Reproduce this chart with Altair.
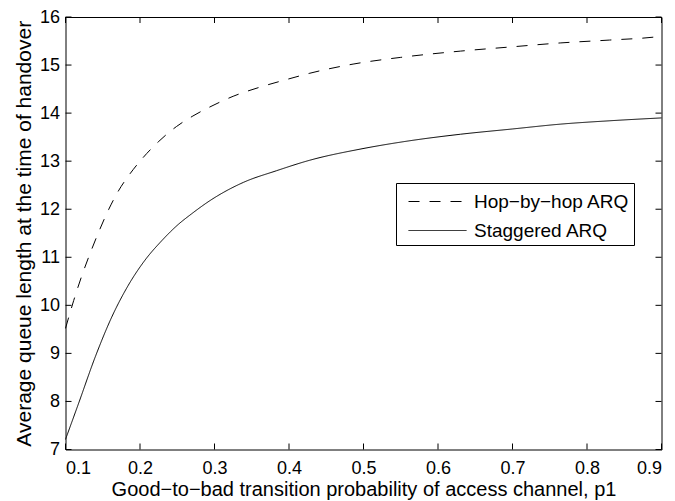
import altair as alt
import pandas as pd

# Hop-by-hop ARQ (dashed)
hop_x = [0.1, 0.111, 0.122, 0.133, 0.1444, 0.1578, 0.171, 0.1867, 0.2022, 0.2244, 0.2489,
         0.271, 0.298, 0.325, 0.361, 0.397, 0.428, 0.486, 0.55, 0.63, 0.7, 0.764, 0.83, 0.889, 0.9]
hop_y = [9.52, 10.1, 10.62, 11.08, 11.52, 11.99, 12.38, 12.74, 13.04, 13.4, 13.72,
         13.94, 14.16, 14.35, 14.54, 14.7, 14.83, 15.02, 15.16, 15.29, 15.38, 15.46, 15.52, 15.58, 15.6]

# Staggered ARQ (solid)
stag_x = [0.1, 0.1178, 0.14, 0.1622, 0.1844, 0.2067, 0.2289, 0.2511, 0.2689,
          0.294, 0.339, 0.383, 0.428, 0.4953, 0.56, 0.63, 0.7, 0.764, 0.83, 0.9]
stag_y = [7.21, 7.97, 8.93, 9.76, 10.42, 10.94, 11.34, 11.68, 11.9,
          12.18, 12.56, 12.8, 13.02, 13.25, 13.42, 13.56, 13.67, 13.77, 13.84, 13.9]

series_names = ["Hop\u2212by\u2212hop ARQ", "Staggered ARQ"]
x_ticks = [0.1, 0.2, 0.3, 0.4, 0.5, 0.6, 0.7, 0.8, 0.9]
y_ticks = [7, 8, 9, 10, 11, 12, 13, 14, 15, 16]

W, H = 596, 432.5
FONT = "Liberation Sans"

df = pd.concat([
    pd.DataFrame({"x": hop_x, "y": hop_y, "series": series_names[0], "o": range(len(hop_x))}),
    pd.DataFrame({"x": stag_x, "y": stag_y, "series": series_names[1], "o": range(len(stag_x))}),
])

xs = alt.Scale(domain=[0.1, 0.9], nice=False, zero=False)
ys = alt.Scale(domain=[7, 16], nice=False, zero=False)

x_axis = alt.Axis(
    values=x_ticks, format=".1f", title="Good\u2212to\u2212bad transition probability of access channel, p1",
    ticks=False, domain=False, grid=False, labelPadding=10, titlePadding=2,
    labelFontSize=18, titleFontSize=20)
y_axis = alt.Axis(
    values=y_ticks, format="d", title="Average queue length at the time of handover",
    ticks=False, domain=False, grid=False, labelPadding=6, titlePadding=5,
    labelFontSize=18, titleFontSize=21)

lines = alt.Chart(df).mark_line(color="black", strokeWidth=1, interpolate="monotone").encode(
    x=alt.X("x:Q", scale=xs, axis=x_axis),
    y=alt.Y("y:Q", scale=ys, axis=y_axis),
    order="o:Q",
    strokeDash=alt.StrokeDash("series:N",
        scale=alt.Scale(domain=series_names, range=[[11, 10], [1, 0]]),
        legend=alt.Legend(title=None, orient="none", legendX=330.5, legendY=166,
                          strokeColor="black", fillColor="white", padding=4,
                          symbolType="M-2.07,0H2.07", symbolSize=784,
                          symbolStrokeColor="black", symbolStrokeWidth=1,
                          symbolOffset=23, labelOffset=22,
                          labelFont=FONT, labelFontSize=19, rowPadding=4)),
)

xt = pd.DataFrame({"x": x_ticks})
yt = pd.DataFrame({"y": y_ticks})

bottom_ticks = alt.Chart(xt).mark_rule(color="black").encode(
    x=alt.X("x:Q", scale=xs, axis=x_axis), y=alt.value(H), y2=alt.value(H - 6))
top_ticks = alt.Chart(xt).mark_rule(color="black").encode(
    x=alt.X("x:Q", scale=xs, axis=x_axis), y=alt.value(0), y2=alt.value(6))
left_ticks = alt.Chart(yt).mark_rule(color="black").encode(
    y=alt.Y("y:Q", scale=ys, axis=y_axis), x=alt.value(0), x2=alt.value(6))
right_ticks = alt.Chart(yt).mark_rule(color="black").encode(
    y=alt.Y("y:Q", scale=ys, axis=y_axis), x=alt.value(W), x2=alt.value(W - 6))

chart = alt.layer(lines, bottom_ticks, top_ticks, left_ticks, right_ticks).properties(
    width=W, height=H,
    autosize=alt.AutoSizeParams(type="none"),
    padding={"left": 57.5, "top": 9, "right": 5, "bottom": 60},
    background="white",
).configure_view(stroke="black", strokeWidth=1).configure_axis(
    labelFont=FONT, titleFont=FONT, labelColor="black", titleColor="black",
    titleFontWeight="normal",
)

chart.save("out.html", embed_options={"renderer": "svg", "actions": False})
